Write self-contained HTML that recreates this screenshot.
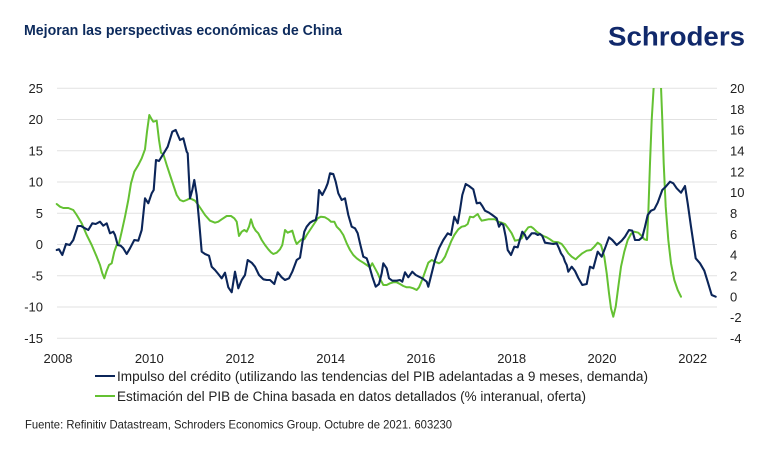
<!DOCTYPE html>
<html>
<head>
<meta charset="utf-8">
<style>
  html,body{margin:0;padding:0;background:#fff;}
  svg{display:block;font-family:"Liberation Sans", sans-serif;}
</style>
</head>
<body>
<svg width="770" height="453" viewBox="0 0 770 453" xmlns="http://www.w3.org/2000/svg">
  <rect x="0" y="0" width="770" height="453" fill="#fff"/>
  <!-- Title -->
  <text x="24" y="35" font-size="14.5" font-weight="bold" fill="#0c2a5c" textLength="318" lengthAdjust="spacingAndGlyphs">Mejoran las perspectivas económicas de China</text>
  <!-- Logo -->
  <text x="608" y="45.5" font-size="26.5" font-weight="bold" fill="#11296b" textLength="137" lengthAdjust="spacingAndGlyphs">Schroders</text>

  <!-- Gridlines -->
  <g stroke="#e2e2e2" stroke-width="1">
    <line x1="57" x2="717" y1="88.3" y2="88.3"/>
    <line x1="57" x2="717" y1="119.5" y2="119.5"/>
    <line x1="57" x2="717" y1="150.8" y2="150.8"/>
    <line x1="57" x2="717" y1="182" y2="182"/>
    <line x1="57" x2="717" y1="213.3" y2="213.3"/>
    <line x1="57" x2="717" y1="244.5" y2="244.5"/>
    <line x1="57" x2="717" y1="275.8" y2="275.8"/>
    <line x1="57" x2="717" y1="307" y2="307"/>
    <line x1="57" x2="717" y1="338.3" y2="338.3"/>
  </g>

  <!-- Left axis labels -->
  <g font-size="13" fill="#222" text-anchor="end">
    <text x="43" y="93">25</text>
    <text x="43" y="124.2">20</text>
    <text x="43" y="155.5">15</text>
    <text x="43" y="186.7">10</text>
    <text x="43" y="218">5</text>
    <text x="43" y="249.2">0</text>
    <text x="43" y="280.5">-5</text>
    <text x="43" y="311.7">-10</text>
    <text x="43" y="343">-15</text>
  </g>
  <!-- Right axis labels -->
  <g font-size="13" fill="#222" text-anchor="start">
    <text x="730" y="93">20</text>
    <text x="730" y="113.8">18</text>
    <text x="730" y="134.7">16</text>
    <text x="730" y="155.5">14</text>
    <text x="730" y="176.3">12</text>
    <text x="730" y="197.2">10</text>
    <text x="730" y="218">8</text>
    <text x="730" y="238.8">6</text>
    <text x="730" y="259.7">4</text>
    <text x="730" y="280.5">2</text>
    <text x="730" y="301.3">0</text>
    <text x="730" y="322.2">-2</text>
    <text x="730" y="343">-4</text>
  </g>
  <!-- X axis labels -->
  <g font-size="13" fill="#222" text-anchor="middle">
    <text x="58" y="363">2008</text>
    <text x="149.3" y="363">2010</text>
    <text x="240" y="363">2012</text>
    <text x="330.7" y="363">2014</text>
    <text x="421" y="363">2016</text>
    <text x="511.7" y="363">2018</text>
    <text x="602" y="363">2020</text>
    <text x="692.7" y="363">2022</text>
  </g>

  <defs>
    <clipPath id="plot"><rect x="50" y="88" width="680" height="260"/></clipPath>
  </defs>

  <g clip-path="url(#plot)" fill="none" stroke-linejoin="round" stroke-linecap="round">
    <!-- Green series -->
    <polyline stroke="#64c132" stroke-width="2" points="56.7,204 60,206.7 63.3,208 68.3,208 73.3,210 76.7,215 81.7,223.3 86.7,235 91.7,245 96.7,256.7 100,265 102.3,273.3 104.3,278.3 106.7,270.7 109,265 111.7,263.3 114.3,251.7 116.7,245 119,243.3 121.7,231.7 125,216.7 128.3,200 131,183.3 134.3,171.7 138.3,165 141.7,158.3 145,149.3 147,131.7 149.3,115 151.7,119.3 153.3,121.7 156.7,120.7 159,140 161,152.7 163.3,154 166.7,165 170,175 173.3,185 176.7,195 180,200 183.3,201.3 186.7,200 190,198.3 195,200.7 198.3,205 201.7,210 205,215 210,220.7 215,222.7 218.3,221.7 221.7,219.3 226.7,216 231,216 234.3,218.3 236.7,221.7 239,236 241.7,231.7 244.3,230 246.7,231.7 249,226.7 251,219.3 253.3,226.7 255.7,230.7 258.3,233.3 261.7,240 265,245 268.3,249.3 271,252.3 273.3,254 276.7,252.7 280,249.3 282.3,245 285,230 287.7,232.7 290,231.7 292.3,230.7 295,240 296.7,244 299,241.7 301.7,239.3 304.3,239.3 306.7,235 310,230 315,222.5 317.7,218.3 321,216.7 325,217.3 328.3,219.3 331,221.7 334.3,221.7 336.7,226.7 340,230 343.3,235 346.7,243.3 350,250 353.3,255 356.7,258.3 360,260.7 363.3,262.7 366.7,265 370,267.3 372.3,263.3 375,268.3 377.7,273.3 380.3,279.3 383.3,285 386.7,285 390,283.3 393.3,282.3 396.7,282.3 400,284 403.3,286 406.7,287.3 410,287.3 413.3,288.3 416.7,290 419,287.3 421,282.7 423.3,276.7 425.7,270 428.3,262.7 431.7,260 435,261.7 439,263.3 441.7,261.7 445,256.7 447.7,250 451,241.7 454.3,235 458.3,229.3 461.7,226.7 465,226 467.7,224 470,216.7 473.3,217.3 475,216 477.7,214 480,218.3 481.7,220.7 485,220 488.3,219.3 491.7,219.3 495,219.3 498.3,221.7 501.7,222.7 505,224 508.3,228.3 511.7,233.3 515,240.7 518.3,240 521.7,238.3 525,231.7 528.3,227.3 531,226.7 533.3,228.3 536.7,231.7 540,234 543.3,236 546.7,237.3 550,239.3 553.3,241.7 558.3,242.3 561.7,244 565,248.3 568.3,253.3 571.7,256.7 575.7,259.3 578.3,256.7 582.3,253.3 586.7,250.7 591,250 594.3,246.7 597.7,242.7 601,245 604.3,256.7 606.7,273.3 609,293.3 611,308.3 613.3,316.7 615.7,306.7 618.3,286.7 621,266.7 624.3,251.7 627.7,240 631,234 634.3,231.7 638.3,232.7 641.7,236 644.3,239.3 647,240 648.3,213.3 650,163.3 651.7,120 653.7,86.7 655,60 659,60 661,86.7 662.3,120 663.7,163.3 665.7,206.7 668.3,240 671,263.3 674.3,280 677.7,290 681,296.7"/>
    <!-- Navy series -->
    <polyline stroke="#0b2559" stroke-width="2.1" points="56.7,250 59,249.3 62.3,255 66,244 69.7,245 73.3,240 77.7,226 81,226 85,228.3 88.3,230 92.3,223.3 95.7,224 100,221.7 103.3,225.7 106.7,223.3 110,233.3 113.3,231.7 115,235 117.7,245 120.7,245.7 123.3,248.3 126.7,254 130,248.3 134.3,240 138.3,240.7 141.7,230 145,198.3 148.3,203.3 151.7,193.3 153.7,190 156,160 159,161 163.3,154 167.7,146.7 172.3,131.7 175.7,130 180,140 183.3,138.3 186.7,151.7 187.7,153.3 190,198.3 192.3,190 194.3,180 196.7,195 199,220 201.7,251.7 205,254 209,255.7 211.7,266.7 215,270 218.3,274 221.7,278.3 225,272.7 228.3,287.3 231.7,292.3 235,271.7 238.3,288.3 241.7,280 245,275 247.7,260 251.7,262.7 255,266.7 259,275 263.3,279.3 266.7,280 270,280 274.3,284 277.7,272.3 281.7,277.3 285,280 289,278.3 292.3,271.7 296.7,260 300,257.7 302.3,243.3 304.3,231.7 306.7,226.7 310,222.7 313.3,220.7 315.7,220 317.3,213 319,190 322.3,195 325.7,188.3 327.7,183.3 330,173.3 333.3,174 335.7,181.7 338.3,193.3 341.7,200 345,198.3 348.3,215 351.7,226.7 355,228.3 357.7,233.3 360,243.3 363.3,256.7 366.7,258.3 369,265 372.3,276.7 375.7,286.7 379,284 381.7,273.3 383.3,263.3 386.7,268.3 389,278.3 392.3,280.7 396.7,280.7 400,280 402.3,281.7 405,272.3 408.3,277.3 412.3,271.7 415.7,275 419,276.7 422.3,278.3 426.7,281.7 428.3,286.7 431.7,273.3 435,260 439,248.3 443.3,240 447.7,233.3 451,235 454.3,216.7 457.7,223.3 460,210 462.3,195 465.7,184 469,186 473.3,189.3 476.7,203.3 480,202.7 482.3,206 485,210.7 489,212.7 492.3,215 496.7,218.3 499,226.7 501,223.3 503.3,225 505.7,236.7 507.7,250 511,255 514.3,246.7 517.7,247.3 520,239.3 522.3,231.7 525,235 526.7,239.3 529,236.7 531.7,233.3 535,233.3 537.7,235 540,234 542.3,236 545,242.7 549,243.3 553.3,244 556.7,243.3 559,248.3 561,253.3 563.3,256.7 565,261.7 566.7,265 568.3,271.7 571.7,266.7 575,271 578.3,278 582.3,285 586.7,284 590,266.7 593.3,268.3 597.7,251.7 601.7,256.7 605,248.3 609,237.3 612.3,240 616.7,245 621.7,240.7 625,236.7 629,230 632.3,230.7 635,240 639,240 642.3,237.3 645,226.7 647.7,215 651,210.7 654.3,209.3 657.7,202.7 662.3,190 665.7,186.7 670,181.7 673.3,183.3 676.7,188.3 681,192.7 685,186 687.7,203.3 691,226.7 695.7,258.3 700,263.3 704.3,270.7 707.7,281.7 711.7,295 715.7,296.7"/>
  </g>

  <!-- Legend -->
  <line x1="95" x2="115" y1="376" y2="376" stroke="#0b2559" stroke-width="2"/>
  <text x="117" y="381" font-size="13.5" fill="#222" textLength="531" lengthAdjust="spacingAndGlyphs">Impulso del crédito (utilizando las tendencias del PIB adelantadas a 9 meses, demanda)</text>
  <line x1="95" x2="115" y1="396" y2="396" stroke="#64c132" stroke-width="2"/>
  <text x="117" y="401" font-size="13.5" fill="#222" textLength="469" lengthAdjust="spacingAndGlyphs">Estimación del PIB de China basada en datos detallados (% interanual, oferta)</text>

  <!-- Footer -->
  <text x="25" y="428.5" font-size="12" fill="#222" textLength="427" lengthAdjust="spacingAndGlyphs">Fuente: Refinitiv Datastream, Schroders Economics Group. Octubre de 2021. 603230</text>
</svg>
</body>
</html>
